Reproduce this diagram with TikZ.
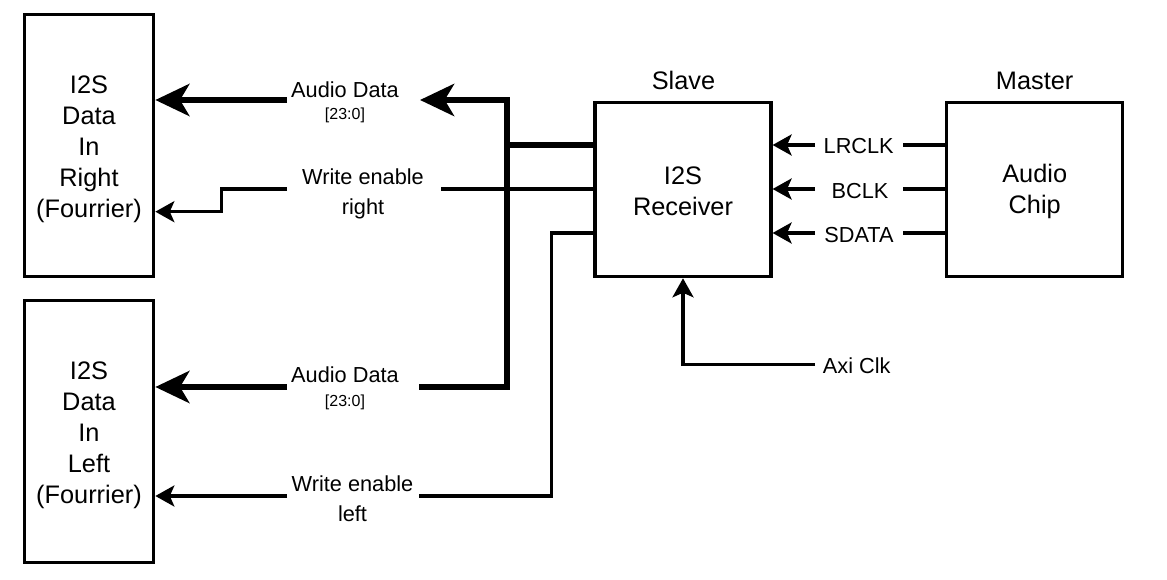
\documentclass[tikz,border=0pt]{standalone}
\usepackage{fontspec}
\setmainfont{Liberation Sans}
\usetikzlibrary{arrows.meta}
\begin{document}
\begin{tikzpicture}[x=0.75pt,y=-0.75pt,
  box/.style={draw, line width=2.4pt, align=center, inner sep=0pt, font=\fontsize{19pt}{23.25pt}\selectfont},
  lbl/.style={inner sep=0pt, anchor=base, font=\fontsize{16.3pt}{22.5pt}\selectfont},
  lbltwo/.style={inner sep=0pt, align=center, font=\fontsize{16.3pt}{22.5pt}\selectfont},
  subtxt/.style={inner sep=0pt, anchor=base, font=\fontsize{12pt}{14pt}\selectfont},
  headtxt/.style={inner sep=0pt, anchor=base, font=\fontsize{19pt}{23pt}\selectfont},
  wire/.style={line width=2.4pt, line join=miter},
  bus/.style={line width=5.2pt, line join=miter},
  sarrow/.style={-{Stealth[length=14.25pt,width=15.75pt,inset=3.4pt]}},
  barrow/.style={-{Stealth[length=25.5pt,width=24pt,inset=7pt]}},
]
\useasboundingbox (0,0) rectangle (1167,580);

% boxes
\node[box, minimum width=97.1pt, minimum height=196.5pt] (dr) at (89,145.7) {\rule{0pt}{19pt}I2S\\Data\\In\\Right\\(Fourrier)};
\node[box, minimum width=97.1pt, minimum height=196.5pt] (dl) at (89,431.2) {\rule{0pt}{19pt}I2S\\Data\\In\\Left\\(Fourrier)};
\node[box, minimum width=132pt, minimum height=130.8pt] (rec) at (683,189.5) {\rule{0pt}{16pt}I2S\\Receiver};
\node[box, minimum width=132pt, minimum height=130.8pt] (chip) at (1034.7,189.5) {\rule{0pt}{16pt}Audio\\Chip};

% headings
\node[headtxt] (slave) at (683.5,90) {Slave};
\node[headtxt] (master) at (1034.6,90) {Master};

% labels
\node[lbl] (ad1) at (345,97.5) {Audio Data};
\node[subtxt] (ad1s) at (345,120) {[23:0]};
\node[lbl] (ad2) at (345,383) {Audio Data};
\node[subtxt] (ad2s) at (345,406.5) {[23:0]};
\node[lbltwo] (wer) at (363,193.4) {Write enable\\right};
\node[lbltwo] (wel) at (352.5,498.6) {Write enable\\left};
\node[lbl] (lr) at (858.7,154) {LRCLK};
\node[lbl] (bc) at (860,199) {BCLK};
\node[lbl] (sd) at (859,242.3) {SDATA};
\node[lbl] (axi) at (856.7,373.3) {Axi Clk};

% connector end points beside the labels
\coordinate (adte) at (420,100);
\coordinate (adtw) at (287,100);
\coordinate (adbe) at (419,387);
\coordinate (adbw) at (287,387);
\coordinate (bt) at (507,100);
\coordinate (bb) at (507,387);
\coordinate (jn) at (507,145);
\coordinate (were) at (441,189);
\coordinate (werw) at (287,189);
\coordinate (wele) at (419,496);
\coordinate (welw) at (287,496);
\coordinate (lre) at (902.7,145);
\coordinate (lrw) at (815,145);
\coordinate (bce) at (902.7,189);
\coordinate (bcw) at (815,189);
\coordinate (sde) at (902.7,233);
\coordinate (sdw) at (815,233);
\coordinate (axie) at (815,364.3);

% data bus
\draw[bus] (rec.west |- jn) -- (jn);
\draw[bus, barrow] (adbe) -- (bb) -- (bt) -- (adte);
\draw[bus, barrow] (adtw) -- (dr.east |- adtw);
\draw[bus, barrow] (adbw) -- (dl.east |- adbw);

% write enables
\draw[wire] (rec.west |- were) -- (were);
\draw[wire, sarrow] (werw) -- (221.3,189) -- (221.3,211.7) -- (dr.east |- 0,211.7);
\draw[wire] (rec.west |- 0,233) -- (551.3,233) -- (551.3,496) -- (wele);
\draw[wire, sarrow] (welw) -- (dl.east |- welw);

% clocks from the chip
\draw[wire] (chip.west |- lre) -- (lre);
\draw[wire, sarrow] (lrw) -- (rec.east |- lrw);
\draw[wire] (chip.west |- bce) -- (bce);
\draw[wire, sarrow] (bcw) -- (rec.east |- bcw);
\draw[wire] (chip.west |- sde) -- (sde);
\draw[wire, sarrow] (sdw) -- (rec.east |- sdw);

% axi clock
\draw[wire, sarrow] (axie) -- (rec.south |- axie) -- (rec.south);
\end{tikzpicture}
\end{document}
